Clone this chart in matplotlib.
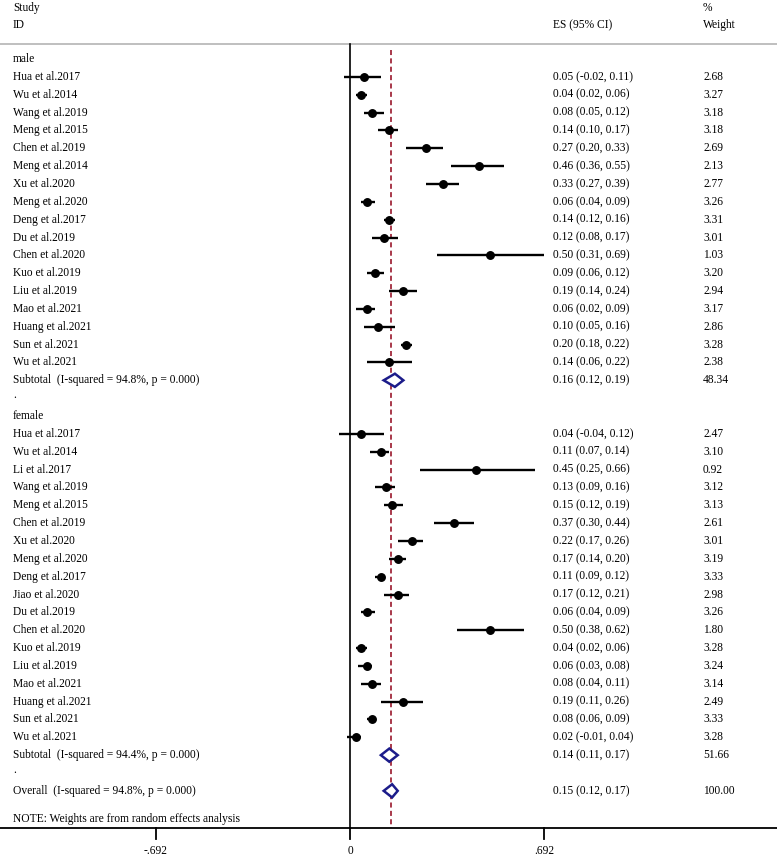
import matplotlib
matplotlib.use("Agg")
import matplotlib.pyplot as plt
from matplotlib.patches import Polygon

plt.rcParams['font.family'] = ['Liberation Serif', 'DejaVu Serif']

male_studies = ["Hua et al.2017", "Wu et al.2014", "Wang et al.2019", "Meng et al.2015",
                "Chen et al.2019", "Meng et al.2014", "Xu et al.2020", "Meng et al.2020",
                "Deng et al.2017", "Du et al.2019", "Chen et al.2020", "Kuo et al.2019",
                "Liu et al.2019", "Mao et al.2021", "Huang et al.2021", "Sun et al.2021",
                "Wu et al.2021"]
male_es = [0.05, 0.04, 0.08, 0.14, 0.27, 0.46, 0.33, 0.06, 0.14, 0.12, 0.50, 0.09, 0.19, 0.06, 0.10, 0.20, 0.14]
male_lo = [-0.02, 0.02, 0.05, 0.10, 0.20, 0.36, 0.27, 0.04, 0.12, 0.08, 0.31, 0.06, 0.14, 0.02, 0.05, 0.18, 0.06]
male_hi = [0.11, 0.06, 0.12, 0.17, 0.33, 0.55, 0.39, 0.09, 0.16, 0.17, 0.69, 0.12, 0.24, 0.09, 0.16, 0.22, 0.22]
male_w = [2.68, 3.27, 3.18, 3.18, 2.69, 2.13, 2.77, 3.26, 3.31, 3.01, 1.03, 3.20, 2.94, 3.17, 2.86, 3.28, 2.38]
male_sub = dict(label="Subtotal  (I-squared = 94.8%, p = 0.000)", es=0.16, lo=0.12, hi=0.19, w=48.34)

female_studies = ["Hua et al.2017", "Wu et al.2014", "Li et al.2017", "Wang et al.2019",
                  "Meng et al.2015", "Chen et al.2019", "Xu et al.2020", "Meng et al.2020",
                  "Deng et al.2017", "Jiao et al.2020", "Du et al.2019", "Chen et al.2020",
                  "Kuo et al.2019", "Liu et al.2019", "Mao et al.2021", "Huang et al.2021",
                  "Sun et al.2021", "Wu et al.2021"]
female_es = [0.04, 0.11, 0.45, 0.13, 0.15, 0.37, 0.22, 0.17, 0.11, 0.17, 0.06, 0.50, 0.04, 0.06, 0.08, 0.19, 0.08, 0.02]
female_lo = [-0.04, 0.07, 0.25, 0.09, 0.12, 0.30, 0.17, 0.14, 0.09, 0.12, 0.04, 0.38, 0.02, 0.03, 0.04, 0.11, 0.06, -0.01]
female_hi = [0.12, 0.14, 0.66, 0.16, 0.19, 0.44, 0.26, 0.20, 0.12, 0.21, 0.09, 0.62, 0.06, 0.08, 0.11, 0.26, 0.09, 0.04]
female_w = [2.47, 3.10, 0.92, 3.12, 3.13, 2.61, 3.01, 3.19, 3.33, 2.98, 3.26, 1.80, 3.28, 3.24, 3.14, 2.49, 3.33, 3.28]
female_sub = dict(label="Subtotal  (I-squared = 94.4%, p = 0.000)", es=0.14, lo=0.11, hi=0.17, w=51.66)

overall = dict(label="Overall  (I-squared = 94.8%, p = 0.000)", es=0.15, lo=0.12, hi=0.17, w=100.00)

xticks = [-0.692, 0, 0.692]
xtick_labels = ["-.692", "0", ".692"]

# pixel -> data mapping
W, H = 777, 857
x0_px, ppu = 350.0, 280.7
y0_px, row_px = 59.0, 17.85

fig = plt.figure(figsize=(W / 100, H / 100), dpi=100)
ax = fig.add_axes([0, 0, 1, 1])
ax.set_xlim((0 - x0_px) / ppu, (W - x0_px) / ppu)
ax.set_ylim((H - y0_px) / row_px, (0 - y0_px) / row_px)
ax.axis('off')

def px2x(px):
    return (px - x0_px) / ppu

def px2y(py):
    return (py - y0_px) / row_px

fs = 8.3
xl = px2x(13)
xes = px2x(553)
xw = px2x(703)

# header
ax.text(xl, px2y(8), "Study", fontsize=fs, va='center')
ax.text(xl, px2y(25), "ID", fontsize=fs, va='center')
ax.text(xes, px2y(25), "ES (95% CI)", fontsize=fs, va='center')
ax.text(xw, px2y(8), "%", fontsize=fs, va='center')
ax.text(xw, px2y(25), "Weight", fontsize=fs, va='center')
ax.plot([ax.get_xlim()[0], ax.get_xlim()[1]], [px2y(43.5)] * 2, color='#b4b4b4', lw=1.2)

axis_y = px2y(828)
# zero line
ax.plot([0, 0], [px2y(43.5), axis_y], color='black', lw=1.2, zorder=2)
# overall dashed line
ax.plot([overall['es'] - 0.005] * 2, [px2y(50), axis_y], color='#a8384a', lw=1.4,
        ls=(0, (2.6, 1.7)), zorder=2)

def study_row(i, name, es, lo, hi, w):
    ax.text(xl, i, name, fontsize=fs, va='center')
    ax.plot([lo, hi], [i, i], color='black', lw=1.7, solid_capstyle='butt', zorder=3)
    ax.plot([es], [i], 'o', color='black', ms=5.4, zorder=4)
    ax.text(xes, i, f"{es:.2f} ({lo:.2f}, {hi:.2f})", fontsize=fs, va='center')
    ax.text(xw, i, f"{w:.2f}", fontsize=fs, va='center')

def diamond_row(i, d):
    ax.text(xl, i, d['label'], fontsize=fs, va='center')
    hh = 0.37
    poly = Polygon([[d['lo'], i], [d['es'], i - hh], [d['hi'], i], [d['es'], i + hh]],
                   closed=True, facecolor='white', edgecolor='#1c1c8a', lw=1.8, zorder=5)
    ax.add_patch(poly)
    ax.text(xes, i, f"{d['es']:.2f} ({d['lo']:.2f}, {d['hi']:.2f})", fontsize=fs, va='center')
    ax.text(xw, i, f"{d['w']:.2f}", fontsize=fs, va='center')

row = 0
ax.text(xl, row, "male", fontsize=fs, va='center')
row += 1
for n, e, l, h, w in zip(male_studies, male_es, male_lo, male_hi, male_w):
    study_row(row, n, e, l, h, w)
    row += 1
diamond_row(row, male_sub)
row += 1
ax.text(xl, row - 0.15, ".", fontsize=fs, va='center')
row += 1
ax.text(xl, row, "female", fontsize=fs, va='center')
row += 1
for n, e, l, h, w in zip(female_studies, female_es, female_lo, female_hi, female_w):
    study_row(row, n, e, l, h, w)
    row += 1
diamond_row(row, female_sub)
row += 1
ax.text(xl, row - 0.15, ".", fontsize=fs, va='center')
row += 1
diamond_row(row, overall)
ax.text(xl, px2y(819), "NOTE: Weights are from random effects analysis", fontsize=fs, va='center')

# bottom axis
ax.plot([ax.get_xlim()[0], ax.get_xlim()[1]], [axis_y] * 2, color='black', lw=1.3)
for t, lab in zip(xticks, xtick_labels):
    ax.plot([t, t], [axis_y, px2y(839)], color='black', lw=1.3)
    ax.text(t, px2y(851), lab, fontsize=fs, ha='center', va='center')

fig.savefig("out.png", dpi=100)
